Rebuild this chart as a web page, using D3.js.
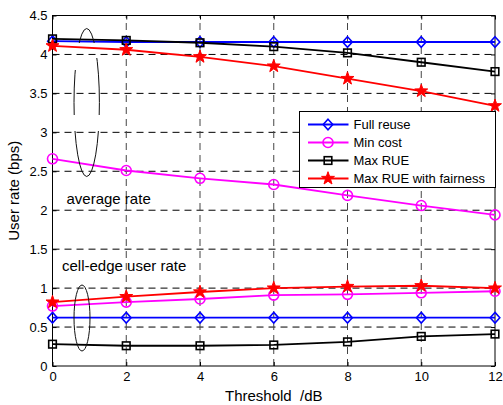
<!DOCTYPE html>
<html>
<head>
<meta charset="utf-8">
<script src="https://cdn.jsdelivr.net/npm/d3@7"></script>
<style>
  body { margin: 0; background: #fff; }
  svg { font-family: 'Liberation Sans', Arial, sans-serif; }
</style>
</head>
<body>
<svg id="chart" width="503" height="405"></svg>
<script>
var thresholds = [0, 2, 4, 6, 8, 10, 12];
var xTicks = [0, 2, 4, 6, 8, 10, 12];
var yTicks = [0, 0.5, 1, 1.5, 2, 2.5, 3, 3.5, 4, 4.5];

// average rate
var fullReuseAvg = [4.17, 4.16, 4.16, 4.16, 4.16, 4.16, 4.16];
var minCostAvg = [2.66, 2.51, 2.41, 2.33, 2.19, 2.06, 1.94];
var maxRueAvg = [4.20, 4.18, 4.15, 4.10, 4.02, 3.90, 3.78];
var maxRueFairAvg = [4.11, 4.06, 3.97, 3.85, 3.69, 3.53, 3.34];

// cell-edge user rate
var fullReuseEdge = [0.62, 0.62, 0.62, 0.62, 0.62, 0.62, 0.62];
var minCostEdge = [0.77, 0.82, 0.86, 0.91, 0.92, 0.94, 0.96];
var maxRueEdge = [0.28, 0.26, 0.26, 0.27, 0.31, 0.38, 0.41];
var maxRueFairEdge = [0.82, 0.89, 0.95, 1.00, 1.02, 1.03, 1.00];

var seriesNames = ['Full reuse', 'Min cost', 'Max RUE', 'Max RUE with fairness'];
var seriesColors = ['#0000ff', '#ff00ff', '#000000', '#ff0000'];
var seriesMarkers = ['diamond', 'circle', 'square', 'star'];

var svg = d3.select('#chart');
var x = d3.scaleLinear().domain([0, 12]).range([52.5, 495]);
var y = d3.scaleLinear().domain([0, 4.5]).range([366, 15.5]);

// grid
var grid = svg.append('g').attr('class', 'grid');
grid.selectAll('.hgrid').data(yTicks.slice(1, -1)).enter()
  .append('line')
  .attr('x1', x(0)).attr('x2', x(12))
  .attr('y1', function (d) { return y(d); })
  .attr('y2', function (d) { return y(d); })
  .attr('stroke', '#000').attr('stroke-width', 1)
  .attr('stroke-dasharray', '7,5');
grid.selectAll('.vgrid').data(xTicks.slice(1, -1)).enter()
  .append('line')
  .attr('y1', y(0)).attr('y2', y(4.5))
  .attr('x1', function (d) { return x(d); })
  .attr('x2', function (d) { return x(d); })
  .attr('stroke', '#444').attr('stroke-width', 1)
  .attr('stroke-dasharray', '7,5');

// axes
var xAxis = svg.append('g')
  .attr('transform', 'translate(0,' + y(0) + ')')
  .call(d3.axisBottom(x).tickValues(xTicks).tickSizeInner(-4).tickSizeOuter(0).tickPadding(6));
var xAxisTop = svg.append('g')
  .attr('transform', 'translate(0,' + y(4.5) + ')')
  .call(d3.axisTop(x).tickValues(xTicks).tickSizeInner(-4).tickSizeOuter(0).tickFormat(''));
var yAxis = svg.append('g')
  .attr('transform', 'translate(' + x(0) + ',0)')
  .call(d3.axisLeft(y).tickValues(yTicks).tickSizeInner(-4).tickSizeOuter(0).tickPadding(5).tickFormat(d3.format('')));
var yAxisRight = svg.append('g')
  .attr('transform', 'translate(' + x(12) + ',0)')
  .call(d3.axisRight(y).tickValues(yTicks).tickSizeInner(-4).tickSizeOuter(0).tickFormat(''));

[xAxis, xAxisTop, yAxis, yAxisRight].forEach(function (a) {
  a.select('.domain').remove();
  a.selectAll('text').attr('font-size', 13).attr('fill', '#000')
    .attr('font-family', "'Liberation Sans', Arial, sans-serif");
  a.selectAll('line').attr('stroke', '#000');
});

svg.append('rect')
  .attr('x', x(0)).attr('y', y(4.5))
  .attr('width', x(12) - x(0)).attr('height', y(0) - y(4.5))
  .attr('fill', 'none').attr('stroke', '#000').attr('stroke-width', 1);

// series
var line = d3.line()
  .x(function (d) { return x(d[0]); })
  .y(function (d) { return y(d[1]); });

function starPath(r) {
  var pts = [];
  for (var i = 0; i < 10; i++) {
    var rr = i % 2 === 0 ? r : r * 0.4;
    var a = -Math.PI / 2 + i * Math.PI / 5;
    pts.push([rr * Math.cos(a), rr * Math.sin(a)]);
  }
  return 'M' + pts.map(function (p) { return p.join(','); }).join('L') + 'Z';
}

function drawMarker(g, kind, color) {
  if (kind === 'diamond') {
    g.append('path').attr('d', 'M0,-5.3L4.8,0L0,5.3L-4.8,0Z')
      .attr('fill', 'none').attr('stroke', color).attr('stroke-width', 1.6);
  } else if (kind === 'circle') {
    g.append('circle').attr('r', 5)
      .attr('fill', 'none').attr('stroke', color).attr('stroke-width', 1.6);
  } else if (kind === 'square') {
    g.append('rect').attr('x', -3.8).attr('y', -3.8).attr('width', 7.6).attr('height', 7.6)
      .attr('fill', 'none').attr('stroke', color).attr('stroke-width', 1.6);
  } else {
    g.append('path').attr('d', starPath(6.8))
      .attr('fill', color).attr('stroke', color).attr('stroke-width', 1);
  }
}

function drawSeries(values, i) {
  var pts = thresholds.map(function (t, j) { return [t, values[j]]; });
  var g = svg.append('g');
  g.append('path').datum(pts)
    .attr('d', line)
    .attr('fill', 'none')
    .attr('stroke', seriesColors[i])
    .attr('stroke-width', 1.8);
  g.selectAll('.mk').data(pts).enter()
    .append('g')
    .attr('transform', function (d) { return 'translate(' + x(d[0]) + ',' + y(d[1]) + ')'; })
    .each(function () { drawMarker(d3.select(this), seriesMarkers[i], seriesColors[i]); });
}

[fullReuseAvg, minCostAvg, maxRueAvg, maxRueFairAvg].forEach(drawSeries);
[fullReuseEdge, minCostEdge, maxRueEdge, maxRueFairEdge].forEach(drawSeries);

// annotation ellipses
var defs = svg.append('defs');
var mask = defs.append('mask').attr('id', 'ellGap');
mask.append('rect').attr('x', 0).attr('y', 0).attr('width', 503).attr('height', 405).attr('fill', '#fff');
mask.append('rect').attr('x', 70).attr('y', 43).attr('width', 17).attr('height', 27).attr('fill', '#000');
mask.append('rect').attr('x', 87).attr('y', 43).attr('width', 17).attr('height', 15).attr('fill', '#000');
mask.append('rect').attr('x', 70).attr('y', 115).attr('width', 34).attr('height', 16).attr('fill', '#000');

svg.append('ellipse')
  .attr('cx', 86.7).attr('cy', 102.5).attr('rx', 12.7).attr('ry', 74)
  .attr('fill', 'none').attr('stroke', '#111').attr('stroke-width', 1)
  .attr('mask', 'url(#ellGap)');
svg.append('ellipse')
  .attr('cx', 82).attr('cy', 318).attr('rx', 8).attr('ry', 33)
  .attr('fill', 'none').attr('stroke', '#111').attr('stroke-width', 1);

svg.append('text').attr('x', 66.5).attr('y', 204)
  .attr('font-size', 15).text('average rate');
svg.append('text').attr('x', 62).attr('y', 271)
  .attr('font-size', 15).text('cell-edge user rate');

// legend
var legend = svg.append('g');
legend.append('rect')
  .attr('x', 299.5).attr('y', 111.5).attr('width', 196).attr('height', 76)
  .attr('fill', '#fff').attr('stroke', '#000').attr('stroke-width', 1);
var legendRow = d3.scaleLinear().domain([0, 3]).range([124.5, 178.5]);
seriesNames.forEach(function (name, i) {
  var ly = legendRow(i);
  legend.append('line')
    .attr('x1', 308).attr('x2', 348.5).attr('y1', ly).attr('y2', ly)
    .attr('stroke', seriesColors[i]).attr('stroke-width', 1.8);
  var mg = legend.append('g').attr('transform', 'translate(328,' + ly + ')');
  drawMarker(mg, seriesMarkers[i], seriesColors[i]);
  legend.append('text')
    .attr('x', 353.5).attr('y', ly + 4.7)
    .attr('font-size', 13).text(name);
});

// axis labels
svg.append('text')
  .attr('x', (x(0) + x(12)) / 2).attr('y', 401)
  .attr('text-anchor', 'middle').attr('font-size', 15)
  .text('Threshold  /dB').style('white-space', 'pre');
svg.append('text')
  .attr('transform', 'translate(19,' + ((y(0) + y(4.5)) / 2) + ') rotate(-90)')
  .attr('text-anchor', 'middle').attr('font-size', 15)
  .text('User rate (bps)');
</script>
</body>
</html>
